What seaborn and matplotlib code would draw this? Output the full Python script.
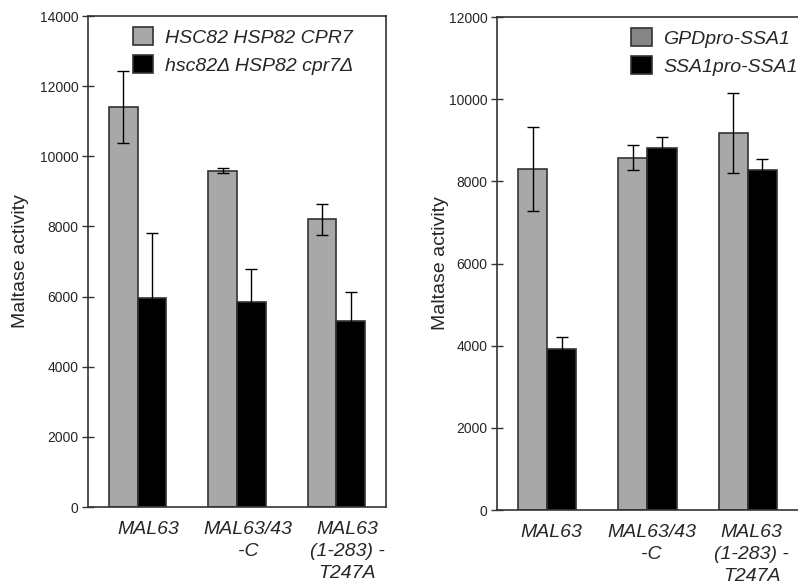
import numpy as np
import pandas as pd
import matplotlib.pyplot as plt
import matplotlib.transforms as mtransforms
import seaborn as sns
from matplotlib.patches import Patch

sns.set_style("white")
plt.rcParams["font.family"] = ["Liberation Sans", "DejaVu Sans"]

categories = ["MAL63", "MAL63/43\n-C", "MAL63\n(1-283) -\nT247A"]

# left panel
left_series = ["HSC82 HSP82 CPR7", "hsc82Δ HSP82 cpr7Δ"]
left_wt = [11400, 9590, 8200]
left_wt_err = [1030, 80, 440]
left_mut = [5950, 5850, 5300]
left_mut_err = [1850, 950, 830]

# right panel
right_series = ["GPDpro-SSA1", "SSA1pro-SSA1"]
right_gpd = [8300, 8580, 9170]
right_gpd_err = [1020, 310, 970]
right_ssa = [3930, 8800, 8280]
right_ssa_err = [290, 270, 260]

bar_colors = ["#a8a8a8", "#000000"]
edge = "#333333"


def make_df(series, vals_a, vals_b):
    return pd.DataFrame({
        "cat": categories * 2,
        "strain": [series[0]] * 3 + [series[1]] * 3,
        "val": vals_a + vals_b,
    })


def draw_panel(ax, df, series, errs, ymax, legend_colors, leg_x, lab_x, shift_px):
    sns.barplot(data=df, x="cat", y="val", hue="strain", hue_order=series,
                palette=bar_colors, width=0.58, edgecolor=edge, linewidth=1.2,
                errorbar=None, legend=False, ax=ax)
    for cont, err in zip(ax.containers, errs):
        xs = [b.get_x() + b.get_width() / 2 for b in cont]
        ys = [b.get_height() for b in cont]
        ax.errorbar(xs, ys, yerr=err, fmt="none", ecolor="black",
                    elinewidth=1.0, capsize=4.5, capthick=1.0, zorder=5)
    ax.set_xlim(-0.5, 2.5)
    ax.set_ylim(0, ymax)
    ax.set_yticks(np.arange(0, ymax + 1, 2000))
    ax.tick_params(axis="y", direction="inout", length=8, width=1,
                   color=edge, labelsize=10, pad=3, left=True)
    ax.tick_params(axis="x", length=0, pad=10)
    ax.set_xticks(range(3))
    ax.set_xticklabels(categories, fontsize=14, style="italic",
                       linespacing=1.38, va="top")
    offset = mtransforms.ScaledTranslation(shift_px / 100, 0, ax.figure.dpi_scale_trans)
    for lab in ax.get_xticklabels():
        lab.set_transform(lab.get_transform() + offset)
    ax.set_xlabel("")
    ax.set_ylabel("Maltase activity", fontsize=14)
    ax.yaxis.set_label_coords(lab_x, 0.5)
    for s in ax.spines.values():
        s.set_color(edge)
        s.set_linewidth(1.2)
    handles = [Patch(facecolor=c, edgecolor=edge, linewidth=1.2) for c in legend_colors]
    ax.legend(handles, series, loc="upper left", bbox_to_anchor=(leg_x, 0.977),
              frameon=False, prop={"style": "italic", "size": 14},
              handlelength=1.05, handleheight=1.05, handletextpad=0.6,
              labelspacing=0.42, borderpad=0, borderaxespad=0)


fig = plt.figure(figsize=(7.98, 5.85), dpi=100)
ax1 = fig.add_axes([0.1103, 0.1333, 0.3734, 0.8393])
ax2 = fig.add_axes([0.6228, 0.1282, 0.3772, 0.8427])

draw_panel(ax1, make_df(left_series, left_wt, left_mut), left_series,
           [left_wt_err, left_mut_err], 14000, ["#a8a8a8", "#000000"],
           0.151, -0.198, 11)
draw_panel(ax2, make_df(right_series, right_gpd, right_ssa), right_series,
           [right_gpd_err, right_ssa_err], 12000, ["#858585", "#000000"],
           0.446, -0.159, 4)
ax2.spines["right"].set_visible(False)

fig.savefig("out.png", dpi=100)
